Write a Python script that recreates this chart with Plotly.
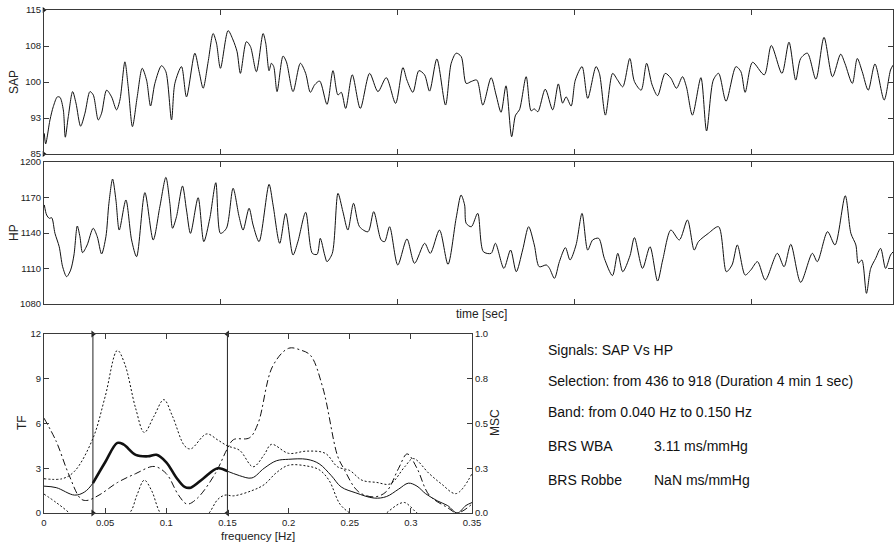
import plotly.graph_objects as go

# ---------------- data ----------------
sap_t = [0.09, 0.47, 1.69, 2.64, 3.77, 4.52, 5.46, 6.02, 6.87, 8.09, 9.04, 10.35, 11.58, 12.99, 13.93,
         15.34, 16.28, 17.7, 19.1, 20.5, 21.46, 22.87, 23.8, 25.0, 26.35, 27.76, 28.99, 30.12, 31.34,
         33.22, 34.45, 36.05, 36.99, 38.87, 40.28, 42.64, 43.86, 44.99, 46.4, 47.81, 48.75, 49.88,
         52.04, 53.45, 54.58, 55.52, 57.22, 58.35, 60.04, 61.93, 62.68, 63.62, 64.28, 64.94, 65.88,
         67.57, 68.52, 70.4, 72.47, 73.97, 75.29, 76.5, 77.93, 80.0, 81.69, 83.1, 84.04, 85.27, 87.15,
         89.41, 92.05, 94.4, 96.76, 99.39, 101.46, 102.59, 104.28, 105.97, 107.58, 108.99, 111.06,
         113.5, 115.11, 116.52, 117.94, 119.35, 120.76, 122.35, 124.05, 126.4, 127.8, 129.2, 130.6,
         132.2, 133.3, 134.4, 136.3, 137.7, 138.6, 139.6, 141.7, 143.8, 145.4, 146.6, 147.6, 149.0,
         150.2, 152.1, 153.7, 156.05, 157.0, 158.7, 160.75, 162.15, 163.6, 165.6, 166.9, 168.8, 170.35,
         171.9, 173.45, 175.6, 177.2, 178.8, 180.5, 181.6, 183.3, 185.7, 187.3, 189.2, 190.7, 192.8,
         195.6, 197.0, 198.2, 200.3, 203.6, 205.6, 208.6, 210.6, 212.5, 213.9, 215.8, 218.2, 220.5,
         222.9, 225.2, 226.4, 228.5, 229.9, 231.3, 233.0, 234.9, 237.5, 239.3, 240.0]
sap_v = [89.3, 87.1, 92.1, 94.9, 96.9, 96.8, 94.2, 88.5, 92.8, 98.0, 95.6, 90.8, 93.5, 98.0, 97.3,
         92.1, 93.5, 98.3, 96.9, 94.2, 96.25, 104.2, 99.0, 90.7, 96.9, 102.85, 100.4, 95.0, 99.7,
         103.4, 102.15, 92.1, 99.7, 103.2, 96.9, 106.0, 102.15, 98.7, 104.2, 110.1, 108.1, 102.85,
         110.7, 108.75, 106.3, 101.8, 108.4, 107.4, 102.15, 110.1, 108.1, 102.35, 103.9, 103.2, 98.0,
         105.4, 104.2, 98.0, 103.9, 101.8, 97.85, 99.4, 100.2, 95.35, 102.36, 97.3, 97.85, 94.5, 101.5,
         94.5, 101.8, 98.0, 100.9, 95.55, 103.0, 100.4, 97.85, 102.36, 101.5, 98.1, 104.8,
         95.2, 103.9, 106.0, 105.3, 99.7, 100.1, 100.4, 95.2, 100.9, 97.3, 93.7, 99.2,
         88.6, 93.1, 94.2, 101.1, 94.0, 94.4, 93.8, 98.5, 94.2, 99.6, 95.6, 96.9, 95.0,
         100.4, 103.2, 96.6, 103.2, 101.8, 93.1, 101.8, 100.4, 99.0, 104.9, 100.1, 98.3, 103.9,
         99.4, 97.15, 101.8, 100.8, 98.7, 101.1, 99.0, 93.1, 100.9, 89.8, 100.4, 101.8, 96.0,
         103.2, 102.15, 97.85, 104.1, 101.5, 107.6, 101.8, 108.3, 100.4, 104.9, 106.0, 100.6, 109.3,
         101.1, 105.8, 103.9, 99.7, 104.9, 102.15, 98.3, 103.75, 96.25, 102.5, 103.5]

hp_t = [0.09, 0.75, 1.5, 2.17, 3.1, 4.3, 5.27, 6.4, 7.53, 8.47, 9.41, 10.16, 10.9, 12.2, 13.9, 15.05,
        16.28, 17.5, 18.35, 19.39, 20.33, 21.27, 23.15, 24.76, 26.17, 28.52, 30.87, 32.75, 34.45,
        35.58, 36.33, 37.46, 39.15, 40.28, 41.41, 43.57, 45.18, 46.87, 48.57, 49.88, 51.57, 53.45,
        55.15, 56.28, 57.97, 59.1, 60.79, 63.62, 64.75, 66.63, 68.33, 70.39, 71.8, 73.97, 75.86,
        77.2, 78.1, 79.34, 80.0, 81.5, 83.1, 84.5, 85.9, 87.5, 89.2, 91.6, 93.2, 95.3, 96.3, 97.7,
        100.0, 102.6, 104.75, 107.6, 109.2, 111.8, 114.2, 116.5, 117.9, 118.9, 119.35, 120.8, 122.6,
        124.2, 126.4, 127.6, 130.0, 131.9, 133.5, 135.3, 137.0, 138.6, 140.0, 142.0, 142.9, 144.3,
        145.7, 147.4, 148.7, 150.4, 152.1, 153.7, 155.1, 156.8, 158.4, 160.7, 162.2, 163.6, 165.65,
        166.9, 169.2, 171.3, 173.45, 174.9, 177.2, 179.6, 181.9, 183.8, 185.0, 187.8, 190.7, 192.9,
        194.5, 196.0, 198.2, 199.8, 201.7, 203.9, 207.3, 209.2, 211.1, 213.9, 217.2, 218.6, 221.5,
        223.6, 226.5, 228.1, 229.5, 230.2, 231.2, 232.5, 233.7, 235.1, 236.5, 237.9, 239.3, 240.0]
hp_v = [1163.7, 1155.2, 1152.4, 1152.9, 1139.7, 1128.4, 1111.5, 1103.1, 1108.7, 1121.4, 1145.9, 1136.9,
        1123.4, 1129.9, 1144.0, 1136.9, 1122.3, 1136.9, 1165.1, 1185.6, 1167.9, 1142.5, 1167.9, 1134.1,
        1120.0, 1174.1, 1134.1, 1162.2, 1187.0, 1165.1, 1144.0, 1153.8, 1179.7, 1159.4, 1139.7, 1169.8,
        1132.7, 1152.4, 1182.5, 1139.7, 1144.0, 1177.8, 1153.8, 1142.5, 1160.9, 1146.8, 1132.7, 1181.1,
        1163.7, 1131.3, 1156.6, 1121.4, 1133.0, 1157.5, 1122.8, 1122.0, 1135.5, 1121.4, 1115.8, 1122.8,
        1173.5, 1158.0, 1142.5, 1165.1, 1145.3, 1141.1, 1158.0, 1134.1, 1132.7, 1145.3, 1113.0, 1134.9,
        1114.4, 1131.3, 1122.8, 1142.5, 1113.5, 1152.4, 1172.1, 1163.7, 1148.2, 1145.3, 1156.6, 1124.2,
        1122.8, 1131.3, 1110.1, 1125.6, 1107.3, 1125.6, 1145.3, 1129.9, 1111.5, 1113.0, 1110.1, 1101.7,
        1115.8, 1127.6, 1117.2, 1129.9, 1156.6, 1125.6, 1134.1, 1135.5, 1118.6, 1104.0, 1122.8, 1107.3,
        1120.8, 1136.1, 1110.1, 1128.4, 1099.4, 1117.2, 1142.5, 1134.1, 1151.0, 1125.6, 1132.7, 1139.7,
        1145.3, 1107.3, 1113.0, 1129.9, 1104.5, 1108.7, 1115.8, 1100.3, 1122.8, 1111.5, 1130.4, 1098.3,
        1122.8, 1115.8, 1141.1, 1129.9, 1171.5, 1139.7, 1129.9, 1114.4, 1117.2, 1089.0, 1110.1, 1118.6,
        1127.0, 1110.1, 1121.4, 1124.0]

# frequency-domain results
tf_f = [0, 0.01, 0.025, 0.033, 0.04, 0.05, 0.06, 0.065, 0.075, 0.085, 0.092, 0.1, 0.108, 0.115, 0.12,
        0.13, 0.142, 0.15, 0.16, 0.17, 0.18, 0.19, 0.2, 0.215, 0.225, 0.235, 0.243, 0.255, 0.27, 0.28,
        0.29, 0.298, 0.305, 0.312, 0.322, 0.33, 0.338, 0.345, 0.35]
tf_v = [1.8, 1.7, 1.2, 1.4, 2.0, 3.4, 4.7, 4.6, 3.9, 3.8, 3.9, 3.4, 2.4, 1.75, 1.7,
        2.3, 3.0, 2.8, 2.5, 2.35, 3.0, 3.5, 3.6, 3.6, 3.3, 2.5, 1.75, 1.35, 1.0, 1.1,
        1.6, 2.0, 1.8, 1.3, 0.8, 0.5, 0.0, 0.5, 0.7]

up_f = [0, 0.015, 0.025, 0.04, 0.05, 0.06, 0.066, 0.075, 0.082, 0.09, 0.098, 0.105, 0.115, 0.12,
        0.133, 0.142, 0.15, 0.16, 0.171, 0.18, 0.186, 0.2, 0.215, 0.23, 0.24, 0.25, 0.26, 0.272,
        0.283, 0.295, 0.302, 0.315, 0.325, 0.337, 0.35]
up_v = [2.3, 2.3, 2.8, 5.0, 7.8, 10.9, 10.0, 7.0, 5.4, 6.5, 7.6, 6.5, 4.5, 4.3,
        5.3, 4.9, 4.5, 4.2, 3.1, 3.9, 4.6, 4.0, 4.15, 4.0, 3.1, 2.85, 2.2, 2.05,
        1.95, 3.1, 3.65, 2.64, 1.95, 1.3, 2.64]

lo_f = [0, 0.01, 0.02, 0.03, 0.05, 0.07, 0.076, 0.082, 0.088, 0.095, 0.11, 0.128, 0.135, 0.142, 0.148,
        0.155, 0.17, 0.18, 0.19, 0.2, 0.215, 0.225, 0.233, 0.242, 0.25, 0.26, 0.275, 0.28, 0.29,
        0.295, 0.3, 0.305, 0.32, 0.35]
lo_v = [1.27, 0.7, 0.05, -0.8, -1.0, 0.0, 1.2, 2.2, 1.5, 0.0, -1.5, -0.5, 0.0, 0.9, 1.2,
        1.15, 1.5, 1.9, 2.7, 3.2, 3.15, 2.9, 2.2, 0.6, 0.0, -0.5, -0.3, 0.0, 0.6,
        0.7, 0.4, 0.0, -0.6, -0.5]

msc_f = [0, 0.01, 0.02, 0.03, 0.035, 0.045, 0.06, 0.075, 0.09, 0.1, 0.11, 0.117, 0.125, 0.14, 0.15,
         0.155, 0.168, 0.175, 0.187, 0.2, 0.21, 0.218, 0.228, 0.24, 0.245, 0.257, 0.27, 0.28, 0.29,
         0.297, 0.305, 0.315, 0.33, 0.338, 0.35]
msc_v = [0.53, 0.4, 0.22, 0.08, 0.07, 0.1, 0.17, 0.22, 0.26, 0.22, 0.1, 0.05, 0.08, 0.22, 0.36,
         0.41, 0.42, 0.5, 0.82, 0.92, 0.91, 0.88, 0.7, 0.32, 0.25, 0.12, 0.09, 0.12, 0.25,
         0.33, 0.25, 0.1, 0.03, 0.0, 0.05]

band = [0.04, 0.15]

info_lines = ["Signals: SAP Vs HP",
              "Selection: from 436 to 918 (Duration 4 min 1 sec)",
              "Band: from 0.040 Hz to 0.150 Hz"]
brs_labels = ["BRS WBA", "BRS Robbe"]
brs_values = ["3.11 ms/mmHg", "NaN ms/mmHg"]

# ---------------- figure ----------------
W, H = 894, 544
FONT = "Liberation Sans, Arial, sans-serif"
AX = "#3a3a3a"
LC = "#111111"


def px_x(p):
    return p / W


def px_y(p):
    return 1 - p / H


fig = go.Figure()

fig.add_trace(go.Scatter(x=sap_t, y=sap_v, mode="lines", line=dict(color=LC, width=1, shape="spline", smoothing=0.8),
                         xaxis="x", yaxis="y", showlegend=False, hoverinfo="skip"))
fig.add_trace(go.Scatter(x=[0, 0], y=[115, 85], mode="markers", marker=dict(symbol="triangle-right", size=5, color=LC),
                         xaxis="x", yaxis="y", showlegend=False, cliponaxis=False, hoverinfo="skip"))
fig.add_trace(go.Scatter(x=hp_t, y=hp_v, mode="lines", line=dict(color=LC, width=1, shape="spline", smoothing=0.8),
                         xaxis="x2", yaxis="y2", showlegend=False, hoverinfo="skip"))

# bottom panel
fig.add_trace(go.Scatter(x=up_f, y=up_v, mode="lines", line=dict(color=LC, width=1, dash="2px,2px", shape="spline"),
                         xaxis="x3", yaxis="y3", showlegend=False, hoverinfo="skip"))
fig.add_trace(go.Scatter(x=lo_f, y=lo_v, mode="lines", line=dict(color=LC, width=1, dash="2px,2px", shape="spline"),
                         xaxis="x3", yaxis="y3", showlegend=False, hoverinfo="skip"))
fig.add_trace(go.Scatter(x=tf_f, y=tf_v, mode="lines", line=dict(color=LC, width=1, shape="spline"),
                         xaxis="x3", yaxis="y3", showlegend=False, hoverinfo="skip"))
in_f = [f for f in tf_f if band[0] <= f <= band[1]]
in_v = [v for f, v in zip(tf_f, tf_v) if band[0] <= f <= band[1]]
fig.add_trace(go.Scatter(x=in_f, y=in_v, mode="lines", line=dict(color=LC, width=2.6, shape="spline"),
                         xaxis="x3", yaxis="y3", showlegend=False, hoverinfo="skip"))
fig.add_trace(go.Scatter(x=msc_f, y=msc_v, mode="lines",
                         line=dict(color=LC, width=1, dash="7px,3px,2px,3px", shape="spline"),
                         xaxis="x3", yaxis="y4", showlegend=False, hoverinfo="skip"))
for b, sym in zip(band, ["triangle-right", "triangle-left"]):
    fig.add_trace(go.Scatter(x=[b, b], y=[0, 12], mode="lines+markers", line=dict(color="#222", width=1),
                             marker=dict(symbol=sym, size=6, color="#222"), cliponaxis=False,
                             xaxis="x3", yaxis="y3", showlegend=False, hoverinfo="skip"))

tickfont = dict(family=FONT, size=9.5, color="#222")
common_ax = dict(showline=True, linecolor=AX, linewidth=1, ticks="inside", ticklen=5, tickcolor=AX,
                 showgrid=False, zeroline=False, tickfont=tickfont, automargin=False)

top_dom_x = [px_x(44), px_x(893)]
fig.update_layout(
    width=W, height=H, margin=dict(l=0, r=0, t=0, b=0, pad=0, autoexpand=False),
    paper_bgcolor="white", plot_bgcolor="white",
    xaxis=dict(domain=top_dom_x, range=[0, 240], tickvals=[50, 100, 150, 200], showticklabels=False,
               mirror="ticks", anchor="y", **common_ax),
    yaxis=dict(domain=[px_y(154), px_y(10)], range=[85, 115], tickvals=[85, 92.5, 100, 107.5, 115],
               ticktext=["85", "93", "100", "108", "115"], mirror="ticks", anchor="x", **common_ax),
    xaxis2=dict(domain=top_dom_x, range=[0, 240], tickvals=[50, 100, 150, 200], showticklabels=False,
                mirror="ticks", anchor="y2", **common_ax),
    yaxis2=dict(domain=[px_y(304), px_y(162)], range=[1080, 1200], tickvals=[1080, 1110, 1140, 1170, 1200],
                mirror="ticks", anchor="x2", **common_ax),
    xaxis3=dict(domain=[px_x(44), px_x(472)], range=[0, 0.35], tickvals=[0, 0.05, 0.1, 0.15, 0.2, 0.25, 0.3, 0.35],
                ticktext=["0", "0.05", "0.1", "0.15", "0.2", "0.25", "0.3", "0.35"], mirror="ticks", anchor="y3",
                ticklabelstandoff=1, **common_ax),
    yaxis3=dict(domain=[px_y(513), px_y(334)], range=[0, 12], tickvals=[0, 3, 6, 9, 12], mirror=True,
                anchor="x3", **common_ax),
    yaxis4=dict(overlaying="y3", side="right", range=[0, 1], tickvals=[0, 0.25, 0.5, 0.75, 1],
                ticktext=["0.0", "0.3", "0.5", "0.8", "1.0"], anchor="x3", **common_ax),
)

ann = []
titlefont = dict(family=FONT, size=12, color="#222")
ann.append(dict(text="SAP", x=px_x(14), y=px_y(82), textangle=-90))
ann.append(dict(text="HP", x=px_x(14), y=px_y(233), textangle=-90))
ann.append(dict(text="TF", x=px_x(22), y=px_y(423), textangle=-90))
ann.append(dict(text="MSC", x=px_x(495), y=px_y(423), textangle=-90))
ann.append(dict(text="time [sec]", x=px_x(481), y=px_y(314)))
ann.append(dict(text="frequency [Hz]", x=px_x(258), y=px_y(535.5), font_size=11.5))
for a in ann:
    f = dict(titlefont)
    if "font_size" in a:
        f["size"] = a.pop("font_size")
    a.update(xref="paper", yref="paper", showarrow=False, font=f, xanchor="center", yanchor="middle")

infofont = dict(family=FONT, size=14, color="#111")
ys = [350, 381, 412]
for txt, yy in zip(info_lines, ys):
    ann.append(dict(text=txt, x=px_x(546), y=px_y(yy), xref="paper", yref="paper", showarrow=False,
                    font=infofont, xanchor="left", yanchor="middle"))
for lab, val, yy in zip(brs_labels, brs_values, [446, 480]):
    ann.append(dict(text=lab, x=px_x(546), y=px_y(yy), xref="paper", yref="paper", showarrow=False,
                    font=infofont, xanchor="left", yanchor="middle"))
    ann.append(dict(text=val, x=px_x(652), y=px_y(yy), xref="paper", yref="paper", showarrow=False,
                    font=infofont, xanchor="left", yanchor="middle"))
fig.update_layout(annotations=ann)

fig.write_html("out.html")
